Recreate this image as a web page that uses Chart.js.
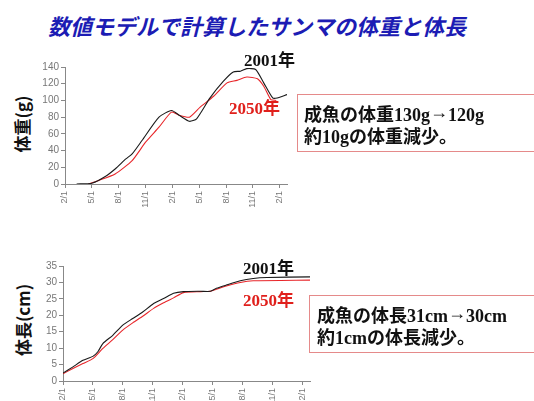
<!DOCTYPE html>
<html lang="ja">
<head>
<meta charset="UTF-8">
<title>サンマの体重と体長</title>
<script src="https://cdn.jsdelivr.net/npm/chart.js"></script>
<style>
    body {
        margin: 0;
        width: 534px;
        height: 401px;
        overflow: hidden;
        background: #fff;
        position: relative;
        font-family: "Noto Sans CJK JP", sans-serif;
    }
    .abs { position: absolute; white-space: nowrap; }
    .title {
        left: 0; width: 514px; top: 9px;
        text-align: center;
        font-size: 22px; font-weight: bold; font-style: italic;
        color: #1c1cb4;
    }
    .ytitle {
        font-size: 17px; font-weight: bold; color: #111;
        transform: translate(-50%, -50%) rotate(-90deg);
    }
    .year {
        font-family: "Liberation Serif", "Noto Sans CJK JP", serif;
        font-size: 17px; font-weight: bold; line-height: 1;
    }
    .box {
        border: 1px solid #e58a8a;
        font-family: "Liberation Serif", "Noto Sans CJK JP", serif;
        font-size: 18px; font-weight: bold; color: #111;
        line-height: 22px;
        box-sizing: border-box;
    }
    .arrow { position: relative; top: -3px; }
    canvas { position: absolute; }
</style>
</head>
<body>

<div class="abs title">数値モデルで計算したサンマの体重と体長</div>

<div class="abs ytitle" style="left:21px; top:124px;">体重(g)</div>
<div class="abs ytitle" style="left:22px; top:320px;">体長(cm)</div>

<canvas id="weightChart" width="300" height="175" style="left:0; top:55px;"></canvas>
<canvas id="lengthChart" width="320" height="160" style="left:0; top:255px;"></canvas>

<div class="abs year" style="left:244px; top:52px; color:#111;">2001年</div>
<div class="abs year" style="left:229px; top:100px; color:#e0201c;">2050年</div>
<div class="abs year" style="left:243px; top:260px; color:#111;">2001年</div>
<div class="abs year" style="left:243px; top:292px; color:#e0201c;">2050年</div>

<div class="abs box" style="left:297px; top:94px; width:250px; height:58px; padding:9px 0 0 6px;">成魚の体重130g<span class="arrow">→</span>120g<br>約10gの体重減少。</div>
<div class="abs box" style="left:309px; top:295px; width:240px; height:58px; padding:9px 0 0 7px;">成魚の体長31cm<span class="arrow">→</span>30cm<br>約1cmの体長減少。</div>

<script>
    // x positions are months counted from the first 2/1
    const xTickMonths = [0, 3, 6, 9, 12, 15, 18, 21, 24];
    const xTickLabels = ['2/1', '5/1', '8/1', '11/1', '2/1', '5/1', '8/1', '11/1', '2/1'];

    const weight2001Months = [1.3, 3.0, 4.5, 5.6, 6.8, 7.5, 8.6, 10.5, 11.9, 12.8, 13.9, 14.7, 16.2, 17.7, 18.8, 19.6, 20.3, 21.3, 22.2, 23.2, 23.7, 24.8];
    const weight2001 = [0, 1, 9, 18, 30, 36, 52, 80, 88, 82, 75, 78, 103, 123, 134, 135, 138, 137, 121, 103, 103, 107];
    const weight2050Months = [2.6, 3.7, 5.6, 7.5, 9.0, 10.5, 11.9, 12.8, 13.9, 15.1, 16.6, 18.1, 19.2, 20.3, 21.5, 22.2, 23.0, 23.6];
    const weight2050 = [0, 4, 12, 28, 50, 68, 86, 82, 80, 92, 105, 121, 124, 128, 126, 117, 101, 100];

    const length2001Months = [0, 1, 2, 3, 3.5, 4, 5, 6, 7, 8, 9.1, 10.1, 11.1, 12.1, 13.8, 14.8, 15.4, 16.4, 17.8, 19.1, 20.5, 24.8];
    const length2001 = [2.4, 4.3, 6.3, 7.5, 8.9, 11.4, 13.9, 17, 19, 21, 23.6, 25.1, 26.7, 27.2, 27.3, 27.3, 28.2, 29.2, 30.5, 31.2, 31.5, 31.7];
    const length2050Months = [0, 1, 2, 3, 4, 5, 6, 7, 8, 9.1, 10.1, 11.1, 12.1, 13.8, 14.8, 15.4, 16.4, 17.8, 19.1, 24.8];
    const length2050 = [2.2, 3.8, 5.3, 6.8, 9.9, 12.6, 15.5, 17.7, 19.7, 22.1, 23.8, 25.3, 26.9, 27.2, 27.3, 27.9, 28.9, 30, 30.5, 30.7];

    const weightTicks = { max: 140, step: 20 };
    const lengthTicks = { max: 35, step: 5 };

    function points(xs, ys) {
        return xs.map((x, i) => ({ x: x, y: ys[i] }));
    }

    function makeChart(id, xs1, ys1, xs2, ys2, yInfo, box) {
        new Chart(document.getElementById(id), {
            type: 'line',
            data: {
                datasets: [
                    { data: points(xs1, ys1), borderColor: '#1a1a1a', borderWidth: 1.1, pointRadius: 0, tension: 0.2 },
                    { data: points(xs2, ys2), borderColor: '#e8262a', borderWidth: 1.1, pointRadius: 0, tension: 0.2 }
                ]
            },
            options: {
                responsive: false,
                animation: false,
                layout: { padding: { top: box.top, right: box.right, left: 0, bottom: 0 } },
                plugins: { legend: { display: false }, tooltip: { enabled: false } },
                scales: {
                    x: {
                        type: 'linear',
                        min: 0,
                        max: 24.8,
                        afterBuildTicks: s => { s.ticks = xTickMonths.map(v => ({ value: v })); },
                        afterFit: s => { s.height = box.xHeight; },
                        grid: { drawOnChartArea: false, tickLength: 4, color: '#888' },
                        border: { color: '#888' },
                        ticks: {
                            autoSkip: false,
                            minRotation: 90,
                            maxRotation: 90,
                            padding: 3,
                            color: '#777',
                            font: { family: 'Liberation Sans', size: 9 },
                            callback: (v, i) => xTickLabels[i]
                        }
                    },
                    y: {
                        min: 0,
                        max: yInfo.max,
                        afterFit: s => { s.width = box.yWidth; },
                        grid: { drawOnChartArea: false, tickLength: 4, color: '#888' },
                        border: { color: '#888' },
                        ticks: {
                            stepSize: yInfo.step,
                            padding: 2,
                            color: '#777',
                            font: { family: 'Liberation Sans', size: 10 }
                        }
                    }
                }
            }
        });
    }

    makeChart('weightChart', weight2001Months, weight2001, weight2050Months, weight2050, weightTicks,
        { top: 12, right: 13, xHeight: 46, yWidth: 65 });
    makeChart('lengthChart', length2001Months, length2001, length2050Months, length2050, lengthTicks,
        { top: 11, right: 10, xHeight: 34, yWidth: 63 });
</script>
</body>
</html>
